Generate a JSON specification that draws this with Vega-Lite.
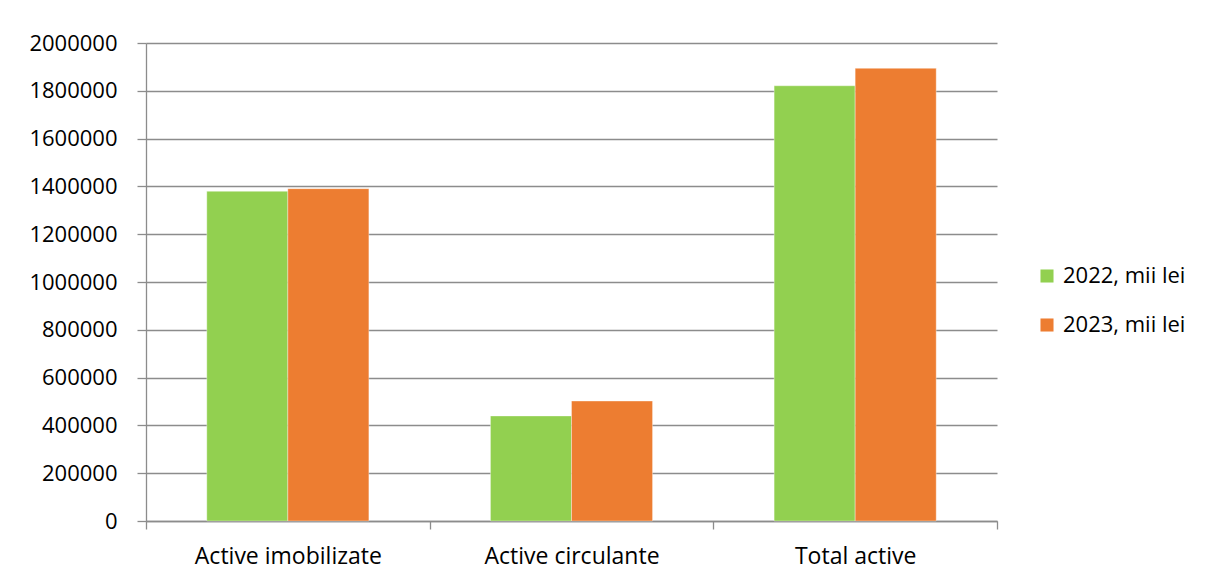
{
  "$schema": "https://vega.github.io/schema/vega-lite/v6.json",
  "width": 851,
  "height": 478,
  "autosize": {"type": "none"},
  "padding": {"left": 146, "top": 43, "right": 211, "bottom": 62},
  "background": "white",
  "data": {
    "values": [
      {"cat": "Active imobilizate", "an": "2022, mii lei", "v": 1379500},
      {"cat": "Active imobilizate", "an": "2023, mii lei", "v": 1390500},
      {"cat": "Active circulante", "an": "2022, mii lei", "v": 439500},
      {"cat": "Active circulante", "an": "2023, mii lei", "v": 502000},
      {"cat": "Total active", "an": "2022, mii lei", "v": 1821000},
      {"cat": "Total active", "an": "2023, mii lei", "v": 1894000}
    ]
  },
  "mark": {"type": "bar", "stroke": "#ffffff", "strokeWidth": 0.6, "strokeOpacity": 0.6},
  "encoding": {
    "x": {
      "field": "cat", "type": "nominal", "sort": null, "title": null,
      "scale": {"paddingInner": 0, "paddingOuter": 0},
      "axis": {
        "labelAngle": 0, "labelFont": "Open Sans", "labelFontSize": 23, "labelColor": "#000000",
        "labelLimit": 0, "labelOverlap": false,
        "domainColor": "#8c8c8c", "domainWidth": 1.3, "tickColor": "#8c8c8c", "tickWidth": 1.3,
        "tickSize": 8, "tickBand": "extent", "labelPadding": 16, "grid": false
      }
    },
    "xOffset": {"field": "an", "type": "nominal", "scale": {"paddingInner": 0, "paddingOuter": 0.75}},
    "y": {
      "field": "v", "type": "quantitative", "title": null,
      "scale": {"domain": [0, 2000000], "nice": false},
      "axis": {
        "values": [0, 200000, 400000, 600000, 800000, 1000000, 1200000, 1400000, 1600000, 1800000, 2000000],
        "format": "d", "labelFont": "Open Sans", "labelFontSize": 22, "labelColor": "#000000",
        "domainColor": "#8c8c8c", "domainWidth": 1.3, "tickColor": "#8c8c8c", "tickWidth": 1.3,
        "tickSize": 9, "labelPadding": 20, "gridColor": "#8c8c8c", "gridWidth": 1.3
      }
    },
    "color": {
      "field": "an", "type": "nominal", "title": null,
      "scale": {"range": ["#92D050", "#ED7D31"]},
      "legend": {
        "orient": "none", "legendX": 890, "legendY": 222,
        "symbolType": "square", "symbolSize": 170, "symbolStrokeWidth": 0,
        "labelFont": "Open Sans", "labelFontSize": 22, "labelColor": "#000000", "labelLimit": 0,
        "rowPadding": 27, "labelOffset": 5
      }
    }
  },
  "config": {"view": {"stroke": null}}
}
